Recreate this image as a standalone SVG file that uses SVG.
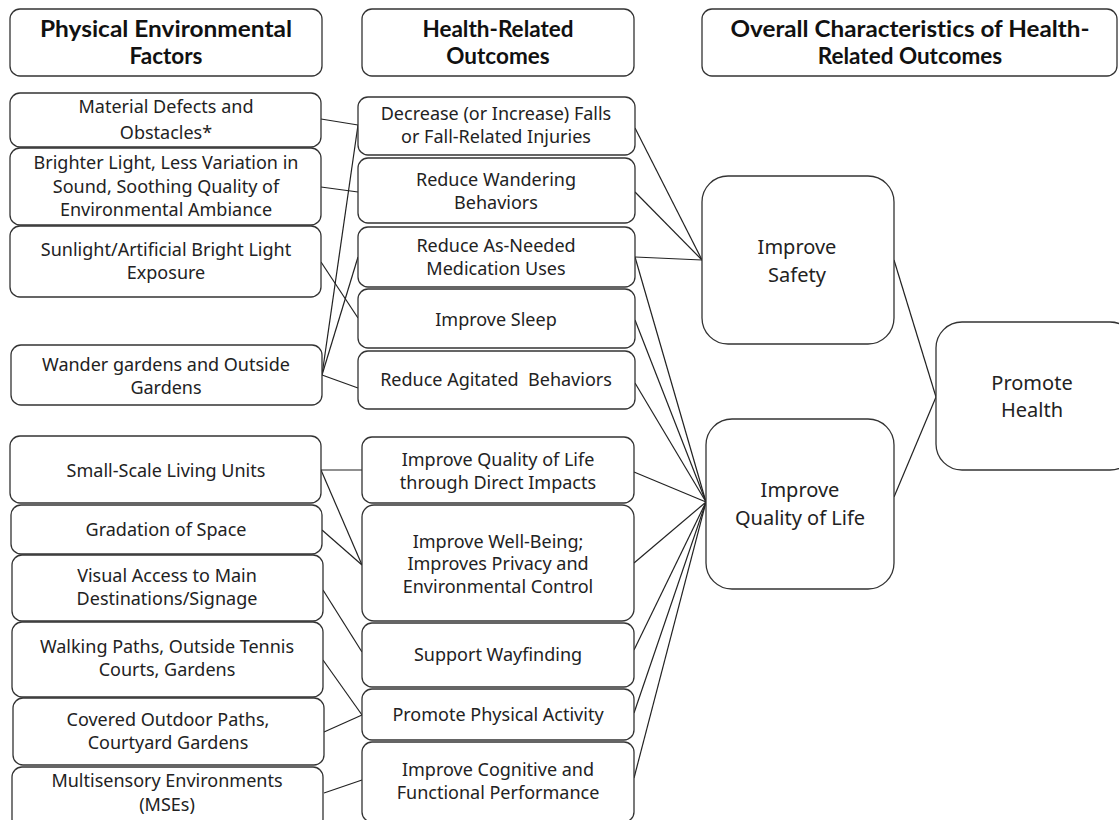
<svg xmlns="http://www.w3.org/2000/svg" width="1119" height="820" viewBox="0 0 1119 820">
<style>
.b{fill:#fff;stroke:#333;stroke-width:1.3}
.t{font-family:"Noto Sans","Open Sans",sans-serif;font-size:18px;fill:#222;text-anchor:middle}
.h{font-family:Lato,"Liberation Sans",sans-serif;font-weight:bold;font-size:22.5px;fill:#111;text-anchor:middle;font-variant-ligatures:none}
.r{font-family:"Noto Sans","Open Sans",sans-serif;font-size:20px;fill:#222;text-anchor:middle}
#connectors line{stroke:#222;stroke-width:1.2}
</style>
<rect width="1119" height="820" fill="#fff"/>
<g id="connectors">
<line x1="321" y1="119" x2="358" y2="125"/>
<line x1="321" y1="187" x2="358" y2="192"/>
<line x1="321" y1="262" x2="358" y2="318"/>
<line x1="322" y1="375" x2="358" y2="125"/>
<line x1="322" y1="375" x2="358" y2="257"/>
<line x1="322" y1="375" x2="358" y2="388"/>
<line x1="321" y1="470" x2="362" y2="470"/>
<line x1="321" y1="470" x2="362" y2="565"/>
<line x1="322" y1="530" x2="362" y2="565"/>
<line x1="323" y1="590" x2="362" y2="652"/>
<line x1="323" y1="660" x2="362" y2="715"/>
<line x1="324" y1="732" x2="362" y2="715"/>
<line x1="324" y1="793" x2="362" y2="780"/>
<line x1="635" y1="128" x2="702" y2="260"/>
<line x1="635" y1="192" x2="702" y2="260"/>
<line x1="635" y1="257" x2="702" y2="260"/>
<line x1="635" y1="257" x2="706" y2="502"/>
<line x1="635" y1="320" x2="706" y2="502"/>
<line x1="635" y1="383" x2="706" y2="502"/>
<line x1="634" y1="472" x2="706" y2="502"/>
<line x1="634" y1="563" x2="706" y2="502"/>
<line x1="634" y1="650" x2="706" y2="502"/>
<line x1="634" y1="713" x2="706" y2="502"/>
<line x1="634" y1="778" x2="706" y2="502"/>
<line x1="894" y1="260" x2="936" y2="397"/>
<line x1="894" y1="497" x2="936" y2="397"/>
</g>
<g id="hdr-left"><rect class="b" x="10" y="9" width="312" height="67" rx="10"/><text class="h" x="166" y="37" textLength="252" lengthAdjust="spacingAndGlyphs">Physical Environmental</text><text class="h" x="166" y="64">Factors</text></g>
<g id="hdr-mid"><rect class="b" x="362" y="9" width="272" height="67" rx="10"/><text class="h" x="498" y="37">Health-Related</text><text class="h" x="498" y="64">Outcomes</text></g>
<g id="hdr-right"><rect class="b" x="702" y="9" width="415" height="67" rx="10"/><text class="h" x="910" y="37" textLength="359" lengthAdjust="spacingAndGlyphs">Overall Characteristics of Health-</text><text class="h" x="910" y="64">Related Outcomes</text></g>

<g id="L1"><rect class="b" x="10" y="93" width="311" height="54" rx="10"/><text class="t" x="166" y="113">Material Defects and</text><text class="t" x="166" y="139">Obstacles*</text></g>
<g id="L2"><rect class="b" x="10" y="148" width="311" height="77" rx="10"/><text class="t" x="166" y="169">Brighter Light, Less Variation in</text><text class="t" x="166" y="193">Sound, Soothing Quality of</text><text class="t" x="166" y="216">Environmental Ambiance</text></g>
<g id="L3"><rect class="b" x="10" y="226" width="311" height="71" rx="10"/><text class="t" x="166" y="256">Sunlight/Artificial Bright Light</text><text class="t" x="166" y="279">Exposure</text></g>
<g id="L4"><rect class="b" x="11" y="345" width="311" height="60" rx="10"/><text class="t" x="166" y="371">Wander gardens and Outside</text><text class="t" x="166" y="394">Gardens</text></g>
<g id="L5"><rect class="b" x="10" y="436" width="311" height="67" rx="10"/><text class="t" x="166" y="477">Small-Scale Living Units</text></g>
<g id="L6"><rect class="b" x="11" y="505" width="311" height="49" rx="10"/><text class="t" x="166" y="536">Gradation of Space</text></g>
<g id="L7"><rect class="b" x="12" y="555" width="311" height="66" rx="10"/><text class="t" x="167" y="582">Visual Access to Main</text><text class="t" x="167" y="605">Destinations/Signage</text></g>
<g id="L8"><rect class="b" x="12" y="622" width="311" height="75" rx="10"/><text class="t" x="167" y="653">Walking Paths, Outside Tennis</text><text class="t" x="167" y="676">Courts, Gardens</text></g>
<g id="L9"><rect class="b" x="13" y="698" width="311" height="67" rx="10"/><text class="t" x="168" y="726">Covered Outdoor Paths,</text><text class="t" x="168" y="749">Courtyard Gardens</text></g>
<g id="L10"><rect class="b" x="12" y="767" width="311" height="62" rx="10"/><text class="t" x="167" y="787">Multisensory Environments</text><text class="t" x="167" y="811">(MSEs)</text></g>

<g id="M1"><rect class="b" x="358" y="97" width="277" height="58" rx="10"/><text class="t" x="496" y="120">Decrease (or Increase) Falls</text><text class="t" x="496" y="143">or Fall-Related Injuries</text></g>
<g id="M2"><rect class="b" x="358" y="158" width="277" height="65" rx="10"/><text class="t" x="496" y="186">Reduce Wandering</text><text class="t" x="496" y="209">Behaviors</text></g>
<g id="M3"><rect class="b" x="358" y="227" width="277" height="60" rx="10"/><text class="t" x="496" y="252">Reduce As-Needed</text><text class="t" x="496" y="275">Medication Uses</text></g>
<g id="M4"><rect class="b" x="358" y="289" width="277" height="59" rx="10"/><text class="t" x="496" y="326">Improve Sleep</text></g>
<g id="M5"><rect class="b" x="358" y="351" width="277" height="58" rx="10"/><text class="t" x="496" y="386">Reduce Agitated&#160; Behaviors</text></g>
<g id="M6"><rect class="b" x="362" y="437" width="272" height="66" rx="10"/><text class="t" x="498" y="466">Improve Quality of Life</text><text class="t" x="498" y="489">through Direct Impacts</text></g>
<g id="M7"><rect class="b" x="362" y="505" width="272" height="116" rx="12"/><text class="t" x="498" y="548">Improve Well-Being;</text><text class="t" x="498" y="570">Improves Privacy and</text><text class="t" x="498" y="593">Environmental Control</text></g>
<g id="M8"><rect class="b" x="362" y="623" width="272" height="64" rx="10"/><text class="t" x="498" y="661">Support Wayfinding</text></g>
<g id="M9"><rect class="b" x="362" y="689" width="272" height="51" rx="10"/><text class="t" x="498" y="721">Promote Physical Activity</text></g>
<g id="M10"><rect class="b" x="362" y="742" width="272" height="80" rx="10"/><text class="t" x="498" y="776">Improve Cognitive and</text><text class="t" x="498" y="799">Functional Performance</text></g>

<g id="safety"><rect class="b" x="702" y="176" width="192" height="168" rx="26"/><text class="r" x="797" y="254">Improve</text><text class="r" x="797" y="282">Safety</text></g>
<g id="qol"><rect class="b" x="706" y="419" width="188" height="170" rx="26"/><text class="r" x="800" y="497">Improve</text><text class="r" x="800" y="525">Quality of Life</text></g>
<g id="health"><rect class="b" x="936" y="322" width="200" height="148" rx="26"/><text class="r" x="1032" y="390">Promote</text><text class="r" x="1032" y="417">Health</text></g>
</svg>
